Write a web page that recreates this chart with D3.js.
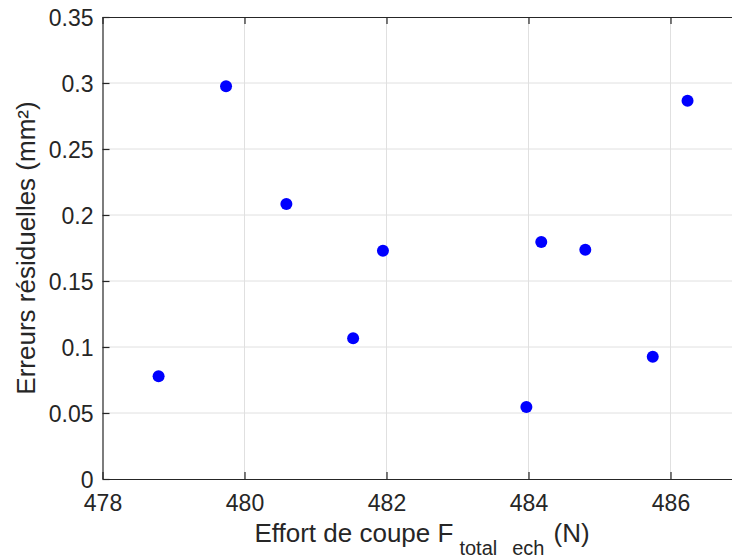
<!DOCTYPE html>
<html>
<head>
<meta charset="utf-8">
<script src="https://cdn.jsdelivr.net/npm/d3@7"></script>
<style>
  body { margin: 0; background: #fff; overflow: hidden; }
  text { font-family: "Liberation Sans", Arial, Helvetica, sans-serif; fill: #262626; }
</style>
</head>
<body>
<div id="chart"></div>
<script>
// Data
var effort = [478.79, 479.74, 480.59, 481.53, 481.95, 483.97, 484.18, 484.80, 485.75, 486.24];
var erreurs = [0.0778, 0.2975, 0.2083, 0.1066, 0.1730, 0.0545, 0.1795, 0.1737, 0.0927, 0.2866];
var xTicks = [478, 480, 482, 484, 486];
var yTicks = [0, 0.05, 0.1, 0.15, 0.2, 0.25, 0.3, 0.35];

var points = effort.map(function(d, i) { return {x: d, y: erreurs[i]}; });

// Layout: the axes box runs past the right edge of the window
var margin = {top: 17, left: 102.5},
    width = 639,
    height = 462;

var x = d3.scaleLinear().domain([478, 487]).range([0, width]);
var y = d3.scaleLinear().domain([0, 0.35]).range([height, 0]);

var svg = d3.select('#chart')
    .append('svg')
    .attr('width', 732)
    .attr('height', 558)
    .append('g')
    .attr('transform', 'translate(' + margin.left + ',' + margin.top + ')');

// Grid lines
svg.append('g')
    .selectAll('line')
    .data(xTicks.slice(1))
    .enter().append('line')
    .attr('x1', function(d) { return x(d); })
    .attr('x2', function(d) { return x(d); })
    .attr('y1', 0)
    .attr('y2', height)
    .attr('stroke', '#e0e0e0')
    .attr('stroke-width', 1);

svg.append('g')
    .selectAll('line')
    .data(yTicks.slice(1, -1))
    .enter().append('line')
    .attr('x1', 0)
    .attr('x2', width)
    .attr('y1', function(d) { return y(d); })
    .attr('y2', function(d) { return y(d); })
    .attr('stroke', '#e0e0e0')
    .attr('stroke-width', 1);

// Bottom axis (ticks inside)
var xAxis = svg.append('g')
    .attr('class', 'x axis')
    .attr('transform', 'translate(0,' + height + ')')
    .call(d3.axisBottom(x)
      .tickValues(xTicks)
      .tickFormat(d3.format('.0f'))
      .tickSizeInner(-7)
      .tickSizeOuter(0)
      .tickPadding(16));

// Top axis, ticks only
var xTop = svg.append('g')
    .call(d3.axisTop(x)
      .tickValues(xTicks)
      .tickFormat('')
      .tickSizeInner(-7)
      .tickSizeOuter(0));

// Left axis
var yAxis = svg.append('g')
    .attr('class', 'y axis')
    .call(d3.axisLeft(y)
      .tickValues(yTicks)
      .tickFormat(function(d) { return d3.format('')(+d.toFixed(2)); })
      .tickSizeInner(-7)
      .tickSizeOuter(0)
      .tickPadding(9));

[xAxis, xTop, yAxis].forEach(function(a) {
  a.select('.domain').attr('stroke', '#262626').attr('stroke-width', 1.2);
  a.selectAll('.tick line').attr('stroke', '#262626').attr('stroke-width', 1.2);
  a.selectAll('text')
    .attr('fill', '#262626')
    .style('font-family', '"Liberation Sans", Arial, sans-serif')
    .style('font-size', '23px');
});
yAxis.selectAll('text').attr('dy', '0.36em');

// Points
svg.append('g')
    .selectAll('circle')
    .data(points)
    .enter().append('circle')
    .attr('cx', function(d) { return x(d.x); })
    .attr('cy', function(d) { return y(d.y); })
    .attr('r', 6)
    .attr('fill', '#0000ff');

// x axis label
var xLabel = svg.append('text')
    .attr('x', width / 2)
    .attr('y', height + 63)
    .style('text-anchor', 'middle')
    .style('font-size', '26px');
xLabel.append('tspan').text('Effort de coupe F');
xLabel.append('tspan').attr('dy', 13).attr('dx', 6).style('font-size', '20px').text('total');
xLabel.append('tspan').attr('dx', 15).style('font-size', '20px').text('ech');
xLabel.append('tspan').attr('dy', -13).attr('dx', 9).text('(N)');

// y axis label
svg.append('text')
    .attr('transform', 'rotate(-90)')
    .attr('x', -height / 2)
    .attr('y', -68)
    .style('text-anchor', 'middle')
    .style('font-size', '26px')
    .text('Erreurs résiduelles (mm²)');
</script>
</body>
</html>
